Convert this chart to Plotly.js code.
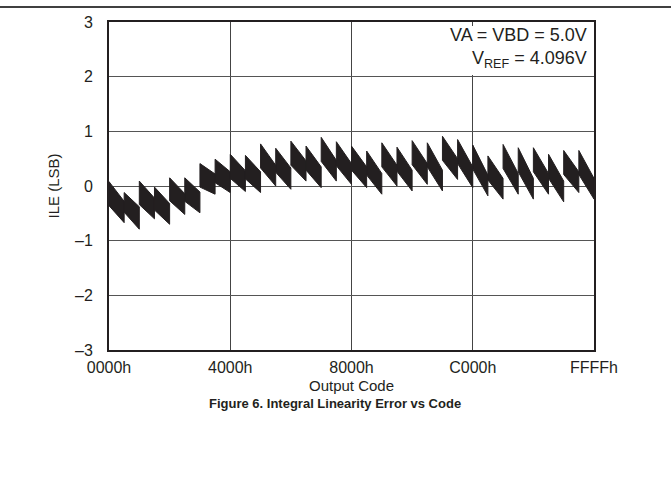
<!DOCTYPE html>
<html>
<head>
<meta charset="utf-8">
<script src="https://cdn.plot.ly/plotly-3.0.1.min.js"></script>
<style>html,body{margin:0;padding:0;background:#fff;}#chart{width:671px;height:491px;}</style>
</head>
<body>
<div id="chart"></div>
<script>
// Each tooth of the sawtooth spans 800h (2048) codes
var toothCodes = 2048;
// value at top edge where tooth starts (LSB)
var topStart = [0.08, -0.12, 0.09, -0.02, 0.15, 0.15, 0.41, 0.49, 0.58, 0.56, 0.77, 0.69, 0.82, 0.73, 0.89, 0.81,
                0.73, 0.64, 0.79, 0.71, 0.83, 0.79, 0.91, 0.85, 0.75, 0.55, 0.76, 0.70, 0.70, 0.58, 0.65, 0.65];
// value at top edge where tooth ends
var topEnd   = [-0.28, -0.38, -0.22, -0.32, -0.14, -0.11, 0.22, 0.26, 0.28, 0.26, 0.38, 0.33, 0.46, 0.35, 0.47, 0.41,
                0.35, 0.23, 0.38, 0.29, 0.41, 0.29, 0.50, 0.35, 0.20, 0.14, 0.23, 0.14, 0.23, 0.09, 0.26, 0.14];
// value at bottom edge where tooth starts
var botStart = [-0.36, -0.48, -0.34, -0.44, -0.27, -0.28, -0.02, 0.06, 0.14, 0.13, 0.33, 0.25, 0.38, 0.29, 0.45, 0.37,
                0.29, 0.20, 0.35, 0.27, 0.39, 0.35, 0.47, 0.41, 0.31, 0.11, 0.32, 0.26, 0.26, 0.14, 0.21, 0.21];
// value at bottom edge where tooth ends
var botEnd   = [-0.67, -0.79, -0.60, -0.70, -0.52, -0.49, -0.15, -0.12, -0.10, -0.12, 0.00, -0.06, 0.09, -0.03, 0.09, 0.03,
                -0.03, -0.15, 0.00, -0.09, 0.03, -0.09, 0.12, -0.03, -0.18, -0.24, -0.15, -0.24, -0.15, -0.29, -0.12, -0.24];

var xTickVals = [0, 16384, 32768, 49152, 65535];
var xTickText = ['0000h', '4000h', '8000h', 'C000h', 'FFFFh'];
var yTickVals = [-3, -2, -1, 0, 1, 2, 3];
var yTickText = ['\u20133', '\u20132', '\u20131', '0', '1', '2', '3'];

var xs = [], ys = [];
for (var k = 0; k < topStart.length; k++) {
  var x0 = k * toothCodes, x1 = (k + 1) * toothCodes - 1;
  xs.push(x0, x1, x1, x0, x0, null);
  ys.push(topStart[k], topEnd[k], botEnd[k], botStart[k], topStart[k], null);
}

var ink = '#231f20';
var font = 'Liberation Sans, Arial, Helvetica, sans-serif';

var trace = {
  x: xs, y: ys, type: 'scatter', mode: 'lines',
  fill: 'toself', fillcolor: ink,
  line: {color: ink, width: 1},
  hoverinfo: 'skip', showlegend: false
};

var L = 109, R = 594, T = 22, B = 350;
var W = 671, H = 491;
var pw = R - L, ph = B - T;
function px(x) { return (x - L) / pw; }
function py(y) { return (B - y) / ph; }

var layout = {
  width: W, height: H,
  margin: {l: L, r: W - R, t: T, b: H - B, pad: 0},
  paper_bgcolor: '#fff', plot_bgcolor: '#fff',
  font: {family: font, color: ink, size: 16},
  showlegend: false,
  xaxis: {
    range: [0, 65535], tickvals: xTickVals, ticktext: xTickText,
    showgrid: true, gridcolor: '#444', gridwidth: 1,
    showline: true, linecolor: ink, linewidth: 2, mirror: true,
    ticks: '', zeroline: false, ticklabelstandoff: 2,
    tickfont: {size: 16, family: font, color: ink},
    title: {text: 'Output Code', font: {size: 15, family: font, color: ink}, standoff: 5}
  },
  yaxis: {
    range: [-3, 3], tickvals: yTickVals, ticktext: yTickText,
    showgrid: true, gridcolor: '#555', gridwidth: 1,
    showline: true, linecolor: ink, linewidth: 2, mirror: true,
    ticks: '', zeroline: false, ticklabelstandoff: 11,
    tickfont: {size: 16, family: font, color: ink},
    title: {text: 'ILE (LSB)', font: {size: 15, family: font, color: ink}, standoff: 12}
  },
  annotations: [
    {xref: 'paper', yref: 'paper', x: px(589), y: py(35), xanchor: 'right', yanchor: 'middle',
     text: 'VA = VBD = 5.0V', showarrow: false, font: {size: 18, family: font, color: ink}},
    {xref: 'paper', yref: 'paper', x: px(589), y: py(59), xanchor: 'right', yanchor: 'middle',
     text: 'V<sub>REF</sub> = 4.096V', showarrow: false, font: {size: 18, family: font, color: ink}},
    {xref: 'paper', yref: 'paper', x: px(335), y: py(403), xanchor: 'center', yanchor: 'middle',
     text: '<b>Figure 6. Integral Linearity Error vs Code</b>', showarrow: false, font: {size: 13, family: font, color: ink}}
  ],
  shapes: [
    {type: 'rect', xref: 'paper', yref: 'paper', x0: px(440), x1: px(592), y0: py(75), y1: py(26),
     fillcolor: '#fff', line: {width: 0}, layer: 'above'},
    {type: 'line', xref: 'paper', yref: 'paper', x0: -L / pw, x1: (W - L) / pw, y0: py(7), y1: py(7),
     line: {color: '#000', width: 1.5}}
  ]
};

Plotly.newPlot('chart', [trace], layout, {displayModeBar: false, staticPlot: true});
</script>
</body>
</html>
